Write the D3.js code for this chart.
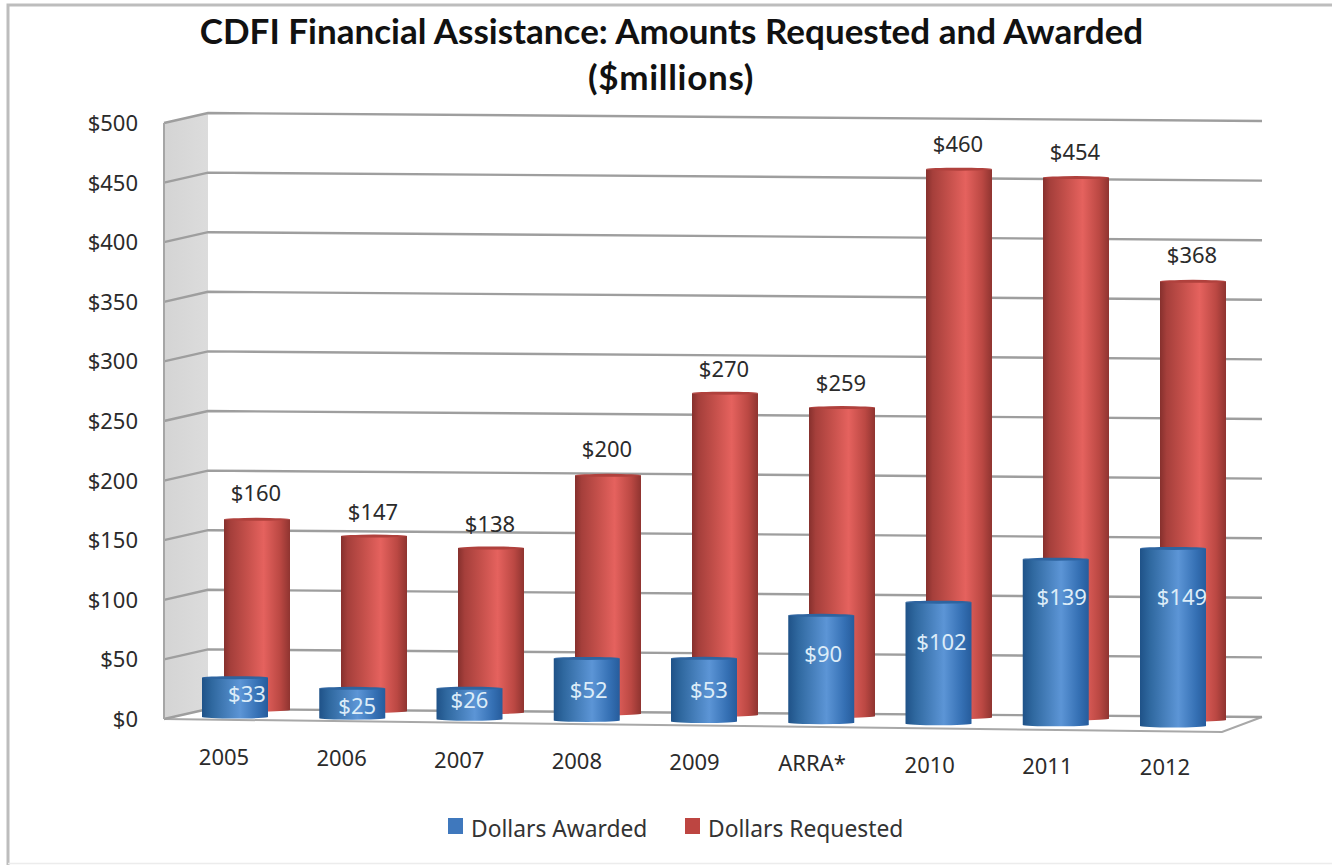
<!DOCTYPE html>
<html>
<head>
<meta charset="utf-8">
<script src="https://cdn.jsdelivr.net/npm/d3@7/dist/d3.min.js"></script>
<style>
  html, body { margin: 0; padding: 0; background: #fff; overflow: hidden; }
  svg { display: block; }
  text { font-family: "Noto Sans", "DejaVu Sans", sans-serif; }
</style>
</head>
<body>
<div id="chart"></div>
<script>
// Chart values, $ millions
const categories = ["2005", "2006", "2007", "2008", "2009", "ARRA*", "2010", "2011", "2012"];
const awarded = [33, 25, 26, 52, 53, 90, 102, 139, 149];
const requested = [160, 147, 138, 200, 270, 259, 460, 454, 368];
const yTicks = [0, 50, 100, 150, 200, 250, 300, 350, 400, 450, 500];
const seriesNames = ["Dollars Awarded", "Dollars Requested"];
const titleLines = ["CDFI Financial Assistance: Amounts Requested and Awarded", "($millions)"];

// Page layout
const W = 1332, H = 865;
const svg = d3.select("#chart").append("svg").attr("width", W).attr("height", H);

// The plot is a sheared box: a back wall, a side wall on the left and a floor.
const slope = 8 / 1054;                 // downward tilt of lines running left to right
const backLeft = 208, backRight = 1262, backZero = 709;
const sideLeft = 164, sideZero = 719;
const floorRight = 1222, floorRightY = 732;
const valueHeight = d3.scaleLinear().domain([0, 500]).range([0, 596]);
const idx = d3.range(categories.length);

const xAward = d3.scaleLinear().domain([0, 8]).range([202, 1140]);
const xRequest = d3.scaleLinear().domain([0, 8]).range([224, 1160]);
const baseAward = d3.scaleLinear().domain([0, 8]).range([717, 726]);
const baseRequest = d3.scaleLinear().domain([0, 8]).range([710, 720]);
const barWidth = 66;

// Cylinder shading
const defs = svg.append("defs");
function shade(id, stops) {
  const g = defs.append("linearGradient").attr("id", id)
    .attr("x1", 0).attr("x2", 1).attr("y1", 0).attr("y2", 0);
  stops.forEach(([o, c]) => g.append("stop").attr("offset", o).attr("stop-color", c));
}
shade("redBody", [[0, "#86302d"], [0.1, "#a53f3b"], [0.35, "#c5504b"], [0.6, "#e5625e"], [0.85, "#bb4843"], [1, "#8f3430"]]);
shade("blueBody", [[0, "#1f5288"], [0.15, "#2f689f"], [0.58, "#5c95d6"], [0.85, "#3570b4"], [1, "#265c9c"]]);
shade("sideWall", [[0, "#d4d4d4"], [1, "#dcdcdc"]]);

// Frame: heavy along the top and left, faint along the bottom, open on the right
svg.append("path").attr("d", d3.line()([[8, H], [8, 5], [W, 5]]))
  .attr("fill", "none").attr("stroke", "#bdbdbd").attr("stroke-width", 3);
svg.append("line").attr("x1", 8).attr("x2", W).attr("y1", 863.5).attr("y2", 863.5)
  .attr("stroke", "#ececec").attr("stroke-width", 1.5);

// Side wall
const sideTop = sideZero - valueHeight(500);
const backTop = backZero - valueHeight(500);
svg.append("path")
  .attr("d", d3.line()([[sideLeft, sideTop], [backLeft, backTop], [backLeft, backZero], [sideLeft, sideZero]]) + "Z")
  .attr("fill", "url(#sideWall)");

// Floor edge
svg.append("path")
  .attr("d", d3.line()([[sideLeft, sideZero], [floorRight, floorRightY], [backRight, backZero + slope * (backRight - backLeft)]]))
  .attr("fill", "none").attr("stroke", "#a8a8a8").attr("stroke-width", 2);

// Gridlines wrap from the side wall onto the back wall
const grid = svg.append("g").attr("fill", "none").attr("stroke", "#9e9e9e").attr("stroke-width", 2.4);
yTicks.forEach(t => {
  const h = valueHeight(t);
  grid.append("path").attr("d", d3.line()([
    [sideLeft, sideZero - h],
    [backLeft, backZero - h],
    [backRight, backZero - h + slope * (backRight - backLeft)]
  ]));
});
svg.append("line").attr("x1", sideLeft).attr("x2", sideLeft)
  .attr("y1", sideTop).attr("y2", sideZero)
  .attr("stroke", "#a6a6a6").attr("stroke-width", 2);

// Y axis labels sit just left of the side wall
const labelSize = 22;
const yLabels = svg.append("g").attr("fill", "#2b2b2b").attr("font-size", labelSize).attr("text-anchor", "end");
yTicks.forEach(t => {
  yLabels.append("text").attr("x", 138).attr("y", sideZero - valueHeight(t) + 8)
    .text("$" + t);
});

// One cylinder: flat body with a shallow rounded base and a thin cap
function cylinder(group, x, base, value, fill, cap) {
  const top = base - valueHeight(value);
  const r = barWidth / 2, ry = 1.5;
  group.append("path")
    .attr("d", `M${x},${top}L${x},${base}A${r},${ry} 0 0 0 ${x + barWidth},${base}L${x + barWidth},${top}Z`)
    .attr("fill", fill);
  group.append("ellipse").attr("cx", x + r).attr("cy", top).attr("rx", r).attr("ry", ry).attr("fill", cap);
}

const bars = svg.append("g");
idx.forEach(i => cylinder(bars, xRequest(i), baseRequest(i), requested[i], "url(#redBody)", "#b0413d"));
idx.forEach(i => cylinder(bars, xAward(i), baseAward(i), awarded[i], "url(#blueBody)", "#2e64a0"));

// Requested amounts float above their bars
const reqGap = [18, 16, 16, 18, 16, 17, 17, 18, 18];
const reqLabels = svg.append("g").attr("fill", "#2b2b2b").attr("font-size", labelSize).attr("text-anchor", "middle");
idx.forEach(i => {
  reqLabels.append("text")
    .attr("x", xRequest(i) + barWidth / 2 - 1)
    .attr("y", baseRequest(i) - valueHeight(requested[i]) - reqGap[i])
    .text("$" + requested[i]);
});

// Awarded amounts sit inside their bars, nudged sideways and lifted per bar
const awardShiftX = [12, 5, 0, 2, 5, 2, 3, 6, 9];
const awardRise = [15, 4, 11, 22, 24, 61, 74, 120, 121];
const awardLabels = svg.append("g").attr("fill", "#dcecf8").attr("font-size", labelSize).attr("text-anchor", "middle");
idx.forEach(i => {
  awardLabels.append("text")
    .attr("x", xAward(i) + barWidth / 2 + awardShiftX[i])
    .attr("y", baseAward(i) - awardRise[i])
    .text("$" + awarded[i]);
});

// Category labels follow the slant of the floor
const catX = d3.scaleLinear().domain([0, 8]).range([224, 1165]);
const catY = d3.scaleLinear().domain([0, 8]).range([765, 775]);
const catLabels = svg.append("g").attr("fill", "#2b2b2b").attr("font-size", labelSize).attr("text-anchor", "middle");
idx.forEach(i => catLabels.append("text").attr("x", catX(i)).attr("y", catY(i)).text(categories[i]));

// Title
const title = svg.append("g").attr("text-anchor", "middle");
title.append("text").attr("x", 671.5).attr("y", 44).text(titleLines[0])
  .style("font-family", "Lato").attr("font-weight", 700).attr("font-size", 35).attr("fill", "#111");
title.append("text").attr("x", 671).attr("y", 90).text(titleLines[1])
  .style("font-family", "Lato").style("letter-spacing", "0.7px").attr("font-weight", 700).attr("font-size", 35).attr("fill", "#111");

// Legend
const legend = svg.append("g").attr("font-size", 22.8).attr("fill", "#333");
const legendX = [448, 685];
const legendColors = ["#3f78bd", "#bd4541"];
seriesNames.forEach((name, i) => {
  legend.append("rect").attr("x", legendX[i]).attr("y", 818).attr("width", 15).attr("height", 16).attr("fill", legendColors[i]);
  legend.append("text").attr("x", legendX[i] + 23).attr("y", 837).text(name);
});
</script>
</body>
</html>
